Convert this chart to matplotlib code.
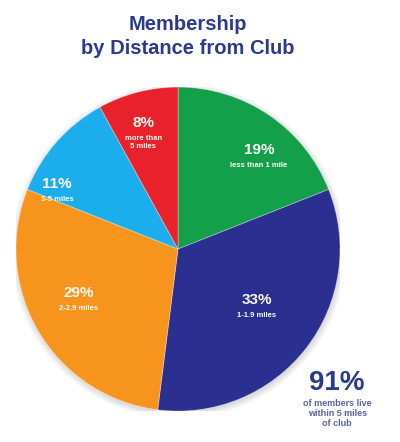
import matplotlib.pyplot as plt
import numpy as np
from matplotlib.patches import Circle

categories = ["less than 1 mile", "1-1.9 miles", "2-2.9 miles", "3-5 miles", "more than\n5 miles"]
shares = [19, 33, 29, 11, 8]
colors = ["#14a04a", "#2b2f8f", "#f7941e", "#1caeec", "#e8212a"]
title = "Membership\nby Distance from Club"
note_value = "91%"
note_text = "of members live\nwithin 5 miles\nof club"

# where the labels sit inside each wedge (fraction of radius, angle shift in degrees)
label_radius = [0.79, 0.58, 0.67, 0.85, 0.81]
label_shift = [-5, 5, -7, 13, 1]

FONT = ["Liberation Sans Narrow", "Liberation Sans", "DejaVu Sans"]
NAVY = "#2b3990"


def main() -> None:
    fig = plt.figure(figsize=(4.0, 4.42), dpi=100)
    fig.patch.set_facecolor("white")

    ax = fig.add_axes([0.04, 0.07, 0.81, 0.733])

    # soft shadow under the pie
    for k in range(6):
        ax.add_patch(Circle(
            (0.004, -0.012), 1.0 + 0.007 * k,
            facecolor="#000000", alpha=0.025, edgecolor="none", zorder=0,
        ))

    wedges, _ = ax.pie(
        shares,
        colors=colors,
        startangle=90,
        counterclock=False,
        wedgeprops=dict(linewidth=0.6, edgecolor="#ffffff60"),
    )
    ax.set_xlim(-1, 1)
    ax.set_ylim(-1, 1)
    ax.set_aspect("equal")
    ax.axis("off")

    for wedge, share, name, r, shift in zip(
        wedges, shares, categories, label_radius, label_shift
    ):
        mid = np.deg2rad((wedge.theta1 + wedge.theta2) / 2 + shift)
        x = r * np.cos(mid)
        y = r * np.sin(mid)
        ax.text(
            x, y, f"{share}%",
            ha="center", va="center",
            color="#fbfbf5", fontsize=11, fontweight="bold", family=FONT,
        )
        ax.text(
            x, y - 0.075, name,
            ha="center", va="top", linespacing=1.35,
            color="#fbfbf5", fontsize=5.5, fontweight="bold", family=FONT,
        )

    fig.text(
        0.47, 0.965, title,
        ha="center", va="top", linespacing=1.3,
        color=NAVY, fontsize=14.5, fontweight="bold", family=FONT,
    )

    fig.text(
        0.843, 0.1335, note_value,
        ha="center", va="center",
        color=NAVY, fontsize=20, fontweight="bold", family=FONT,
    )
    fig.text(
        0.843, 0.098, note_text,
        ha="center", va="top", linespacing=1.2,
        color="#5b62a8", fontsize=6.5, fontweight="bold", family=FONT,
    )

    fig.savefig("out.png", dpi=100, facecolor="white")


if __name__ == "__main__":
    main()
